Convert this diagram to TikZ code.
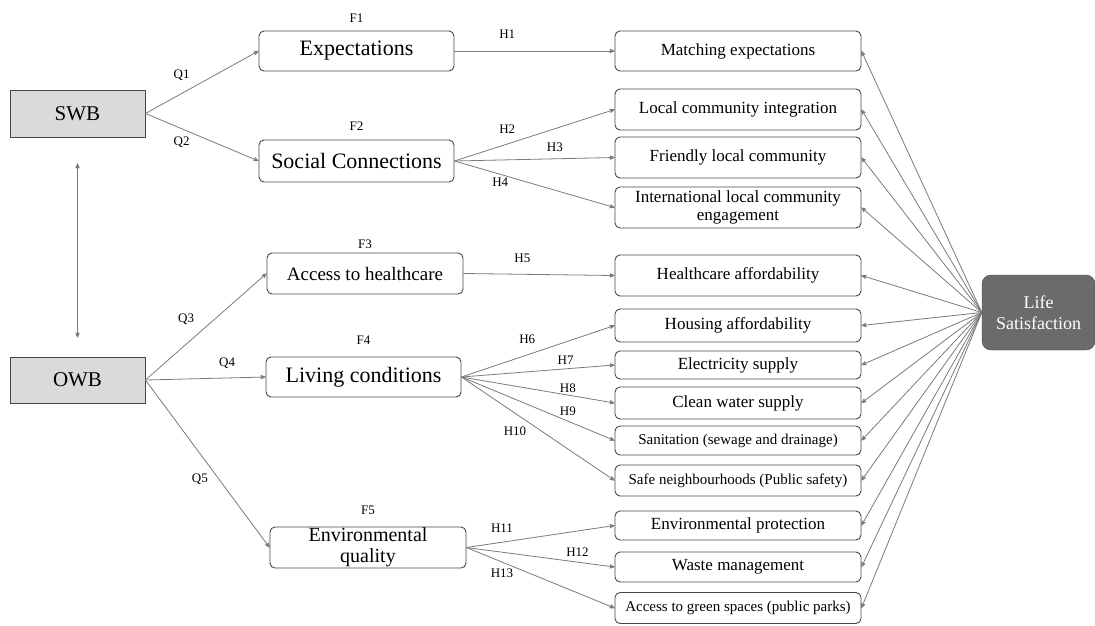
\documentclass[tikz,border=0pt]{standalone}
\usepackage{fontspec}
\setmainfont{Liberation Serif}
\usetikzlibrary{arrows}
\usepackage{xcolor}
\definecolor{linegray}{HTML}{7A7A7A}
\definecolor{boxline}{HTML}{474747}
\definecolor{wbfill}{HTML}{DADADA}
\definecolor{lifefill}{HTML}{6B6B6B}

\tikzset{
  wbbox/.style={draw=boxline, line width=0.9pt, fill=wbfill, minimum width=135pt, minimum height=47pt, inner sep=0pt, font=\fontsize{21}{24}\selectfont},
  fbox/.style={draw=boxline, line width=0.9pt, rounded corners=5pt, minimum width=195pt, minimum height=41pt, inner sep=0pt, font=\fontsize{22}{24}\selectfont},
  hbox/.style={draw=boxline, line width=0.9pt, rounded corners=5pt, minimum width=246pt, inner sep=0pt, align=center, font=\fontsize{17}{18}\selectfont},
  hsmall/.style={hbox, font=\fontsize{15}{17}\selectfont},
  lifebox/.style={draw=boxline, fill=lifefill, rounded corners=9pt, minimum width=113pt, minimum height=75pt, inner sep=0pt, align=center, text=white, font=\fontsize{18}{21}\selectfont},
  arr/.style={draw=linegray, line width=0.8pt, -stealth'},
  lab/.style={font=\fontsize{13}{14}\selectfont, inner sep=1pt}
}

\begin{document}
\begin{tikzpicture}[x=1pt, y=-1pt]
\useasboundingbox (0,0) rectangle (1095,625);

%wellbeing boxes
\node[wbbox] (swb) at (77.5,113.5) {SWB};
\node[wbbox, minimum height=46pt] (owb) at (77.5,380) {OWB};
\draw[arr, stealth'-stealth', shorten <=26pt, shorten >=19pt] (swb.south) -- (owb.north);

%factors
\node[fbox, minimum height=40pt, label={[lab, label distance=7pt]above:F1}] (f1) at (356.5,51) {Expectations};
\node[fbox, minimum height=42pt, label={[lab, label distance=8pt]above:F2}] (f2) at (356.5,161) {Social Connections};
\node[fbox, minimum width=196pt, font=\fontsize{19}{21}\selectfont, label={[lab, label distance=3pt]above:F3}] (f3) at (365,273.5) {Access to healthcare};
\node[fbox, minimum height=40pt, label={[lab, label distance=11pt]above:F4}] (f4) at (363.5,377) {Living conditions};
\node[fbox, minimum width=196pt, align=center, font=\fontsize{20}{21}\selectfont, label={[lab, label distance=11pt]above:F5}] (f5) at (368,547.5) {Environmental\\quality};

%hypotheses
\node[hbox, minimum height=40pt] (m1) at (738,51) {Matching expectations};
\node[hbox, minimum height=41pt] (m2) at (738,109.5) {Local community integration};
\node[hbox, minimum height=41pt] (m3) at (738,157.5) {Friendly local community};
\node[hbox, minimum height=41pt] (m4) at (738,207.5) {International local community\\engagement};
\node[hbox, minimum height=41pt] (m5) at (738,275.5) {Healthcare affordability};
\node[hbox, minimum height=33pt] (m6) at (738,325.5) {Housing affordability};
\node[hbox, minimum height=28pt] (m7) at (738,365) {Electricity supply};
\node[hbox, minimum height=32pt] (m8) at (738,403) {Clean water supply};
\node[hsmall, minimum height=29pt] (m9) at (738,440.5) {Sanitation (sewage and drainage)};
\node[hsmall, minimum height=31pt] (m10) at (738,480.5) {Safe neighbourhoods (Public safety)};
\node[hbox, minimum height=29pt] (m11) at (738,525.5) {Environmental protection};
\node[hbox, minimum height=30pt] (m12) at (738,567) {Waste management};
\node[hsmall, minimum height=31pt] (m13) at (738,608) {Access to green spaces (public parks)};

\node[lifebox] (life) at (1038.5,312.5) {Life\\Satisfaction};

%Q arrows
\draw[arr] (swb.east) -- (f1.west) node[lab, pos=0.32, above=11pt] (q1) {Q1};
\draw[arr] (swb.east) -- (f2.west) node[lab, pos=0.32, below=7pt] (q2) {Q2};
\draw[arr] (owb.east) -- (f3.west) node[lab, pos=0.336, above=18pt] (q3) {Q3};
\draw[arr] (owb.east) -- (f4.west) node[lab, pos=0.68, above=8pt] (q4) {Q4};
\draw[arr] (owb.east) -- (f5.west) node[lab, pos=0.594, left=10pt] (q5) {Q5};

%H arrows
\draw[arr] (f1.east) -- (m1.west) node[lab, pos=0.33, above=11pt] (h1) {H1};
\draw[arr] (f2.east) -- (m2.west) node[lab, pos=0.33, above=9pt] (h2) {H2};
\draw[arr] (f2.east) -- (m3.west) node[lab, pos=0.627, above=6pt] (h3) {H3};
\draw[arr] (f2.east) -- (m4.west) node[lab, pos=0.286, below=2pt] (h4) {H4};
\draw[arr] (f3.east) -- (m5.west) node[lab, pos=0.39, above=10pt] (h5) {H5};
\draw[arr] (f4.east) -- (m6.west) node[lab, pos=0.43, above=10pt] (h6) {H6};
\draw[arr] (f4.east) -- (m7.west) node[lab, pos=0.68, above=3pt] (h7) {H7};
\draw[arr] (f4.east) -- (m8.west) node[lab, pos=0.695, above=1pt] (h8) {H8};
\draw[arr] (f4.east) -- (m9.west) node[lab, pos=0.695, above=4pt] (h9) {H9};
\draw[arr] (f4.east) -- (m10.west) node[lab, pos=0.35, below=12pt] (h10) {H10};
\draw[arr] (f5.east) -- (m11.west) node[lab, pos=0.24, above=8pt] (h11) {H11};
\draw[arr] (f5.east) -- (m12.west) node[lab, pos=0.75, above=4pt] (h12) {H12};
\draw[arr] (f5.east) -- (m13.west) node[lab, pos=0.24, below=5pt] (h13) {H13};

%life satisfaction arrows
\foreach \i in {1,...,13}
  \draw[arr] (life.west) -- (m\i.east);
\end{tikzpicture}
\end{document}
